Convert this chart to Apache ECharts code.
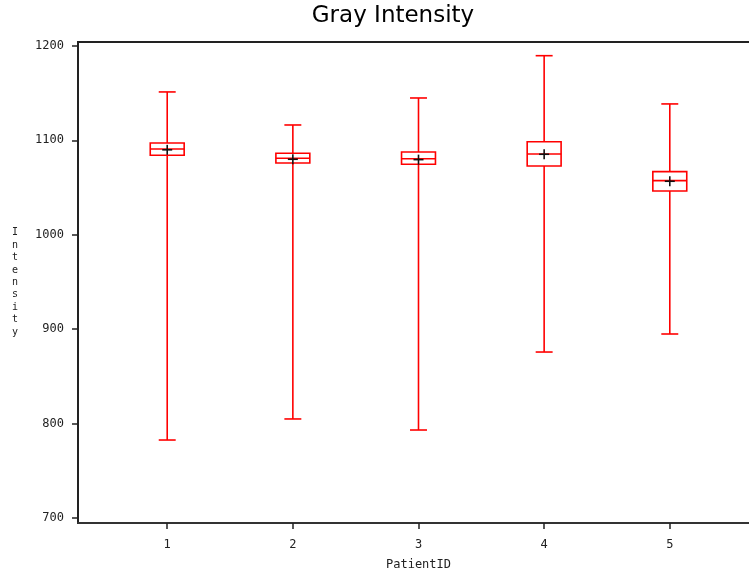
<!DOCTYPE html>
<html>
<head>
<meta charset="utf-8">
<script src="https://cdn.jsdelivr.net/npm/echarts@6/dist/echarts.min.js"></script>
<style>html,body{margin:0;padding:0;background:#fff;}#c{width:749px;height:575px;}</style>
</head>
<body>
<div id="c"></div>
<script>
var categories = ['1', '2', '3', '4', '5'];
var whiskerLow = [782.6, 804.9, 793.2, 875.8, 894.9];
var q1 = [1084.2, 1076.1, 1074.7, 1072.9, 1046.4];
var median = [1090.9, 1081.0, 1080.6, 1085.6, 1057.4];
var q3 = [1097.2, 1086.3, 1087.7, 1098.6, 1066.9];
var whiskerHigh = [1151.3, 1116.3, 1144.9, 1189.7, 1138.6];
var mean = [1090.0, 1080.0, 1079.6, 1085.3, 1056.7];
var yTicks = [700, 800, 900, 1000, 1100, 1200];
var xTicks = [1, 2, 3, 4, 5];

var data = categories.map(function (c, i) {
  return [i + 1, whiskerLow[i], q1[i], median[i], q3[i], whiskerHigh[i], mean[i]];
});

var RED = '#ff0000';
function renderItem(params, api) {
  var x = api.value(0);
  var pLow = api.coord([x, api.value(1)]);
  var pQ1 = api.coord([x, api.value(2)]);
  var pMed = api.coord([x, api.value(3)]);
  var pQ3 = api.coord([x, api.value(4)]);
  var pHigh = api.coord([x, api.value(5)]);
  var pMean = api.coord([x, api.value(6)]);
  var boxW = api.size([0.27, 0])[0];
  var capW = api.size([0.135, 0])[0];
  var cx = pMed[0];
  var ls = { stroke: RED, lineWidth: 1.6, fill: null };
  var children = [
    { type: 'line', shape: { x1: cx, y1: pHigh[1], x2: cx, y2: pQ3[1] }, style: ls },
    { type: 'line', shape: { x1: cx, y1: pQ1[1], x2: cx, y2: pLow[1] }, style: ls },
    { type: 'line', shape: { x1: cx - capW / 2, y1: pHigh[1], x2: cx + capW / 2, y2: pHigh[1] }, style: ls },
    { type: 'line', shape: { x1: cx - capW / 2, y1: pLow[1], x2: cx + capW / 2, y2: pLow[1] }, style: ls },
    { type: 'rect', shape: { x: cx - boxW / 2, y: pQ3[1], width: boxW, height: pQ1[1] - pQ3[1] }, style: { stroke: RED, lineWidth: 1.6, fill: 'rgba(0,0,0,0)' } },
    { type: 'line', shape: { x1: cx - boxW / 2, y1: pMed[1], x2: cx + boxW / 2, y2: pMed[1] }, style: ls },
    { type: 'line', shape: { x1: pMean[0] - 5, y1: pMean[1], x2: pMean[0] + 5, y2: pMean[1] }, style: { stroke: '#111', lineWidth: 1.6 } },
    { type: 'line', shape: { x1: pMean[0], y1: pMean[1] - 5, x2: pMean[0], y2: pMean[1] + 5 }, style: { stroke: '#111', lineWidth: 1.6 } }
  ];
  return { type: 'group', children: children };
}

var chart = echarts.init(document.getElementById('c'), null, { renderer: 'canvas' });
var lblFont = { fontFamily: 'DejaVu Sans Mono', fontSize: 12, color: '#222' };
chart.setOption({
  animation: false,
  backgroundColor: '#fff',
  title: {
    text: 'Gray Intensity',
    left: 388,
    top: 0,
    textAlign: 'center',
    textStyle: { fontFamily: 'DejaVu Sans', fontSize: 23, fontWeight: 'normal', color: '#000' }
  },
  grid: {
    left: 78, right: -10, top: 42, bottom: 52,
    outerBoundsMode: 'none',
    containLabel: false,
    show: true, borderColor: '#222', borderWidth: 2, backgroundColor: 'transparent'
  },
  xAxis: {
    type: 'value',
    min: 0.29, max: 5.71,
    name: 'PatientID',
    nameLocation: 'middle',
    nameGap: 36,
    nameTextStyle: { fontFamily: 'DejaVu Sans Mono', fontSize: 12, color: '#222' },
    axisLine: { show: true, lineStyle: { color: '#333', width: 2 } },
    axisTick: { show: true, length: 6, customValues: xTicks, lineStyle: { color: '#222', width: 1.5 } },
    axisLabel: {
      show: true, margin: 16, customValues: xTicks,
      formatter: function (v) { return categories[Math.round(v) - 1] || ''; },
      fontFamily: lblFont.fontFamily, fontSize: lblFont.fontSize, color: lblFont.color
    },
    splitLine: { show: false }
  },
  yAxis: {
    type: 'value',
    min: 694.7, max: 1204.2,
    name: 'Intensity'.split('').join('\n'),
    nameLocation: 'middle',
    nameRotate: 0,
    nameGap: 63,
    nameTextStyle: { fontFamily: 'DejaVu Sans Mono', fontSize: 10, lineHeight: 12.4, color: '#222', align: 'center' },
    axisLine: { show: true, lineStyle: { color: '#222', width: 2 } },
    axisTick: { show: true, length: 6, customValues: yTicks, lineStyle: { color: '#222', width: 1.5 } },
    axisLabel: {
      show: true, margin: 14, customValues: yTicks,
      formatter: function (v) { return String(v); },
      fontFamily: lblFont.fontFamily, fontSize: lblFont.fontSize, color: lblFont.color
    },
    splitLine: { show: false }
  },
  series: [{
    type: 'custom',
    renderItem: renderItem,
    encode: { x: 0, y: [1, 2, 3, 4, 5, 6] },
    data: data,
    clip: false
  }]
});
</script>
</body>
</html>
